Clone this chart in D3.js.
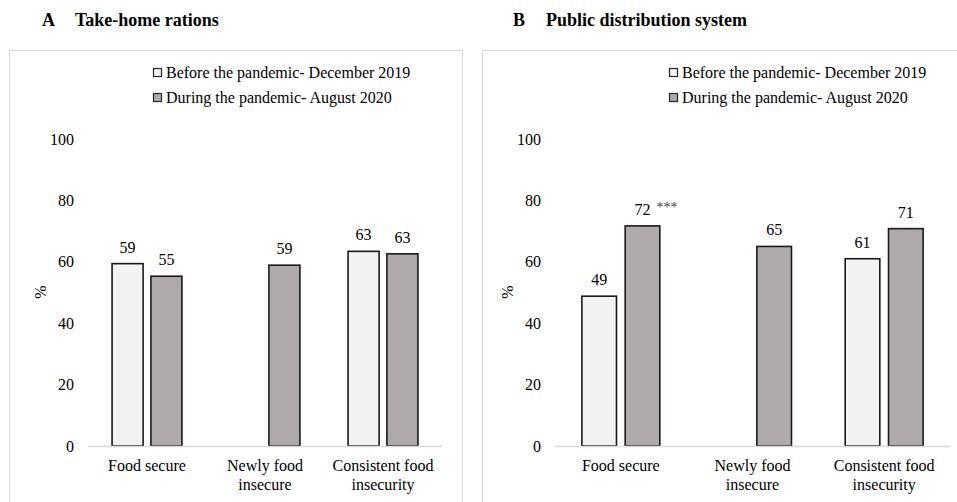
<!DOCTYPE html>
<html>
<head>
<meta charset="utf-8">
<script src="https://cdn.jsdelivr.net/npm/d3@7"></script>
<style>
  body { margin: 0; background: #fff; }
</style>
</head>
<body>
<svg id="chart" width="957" height="502" font-family="Liberation Serif, Times New Roman, DejaVu Serif, serif"></svg>
<script>
// categories and series
var categories = [["Food secure"], ["Newly food", "insecure"], ["Consistent food", "insecurity"]];
var seriesNames = ["Before the pandemic- December 2019", "During the pandemic- August 2020"];
var yTicks = [0, 20, 40, 60, 80, 100];

// A: take-home rations
var thrBefore = [59.4, null, 63.4];
var thrDuring = [55.3, 58.9, 62.6];
// B: public distribution system
var pdsBefore = [48.8, null, 61.0];
var pdsDuring = [71.7, 65.0, 70.8];
var pdsStars = ["***", "", ""];

var colors = ["#f2f2f2", "#aeaaaa"];

var svg = d3.select("#chart");

function drawPanel(p) {
	var g = svg.append("g");

	// frame
	g.append("rect")
		.attr("x", p.box[0] + 0.5).attr("y", 50.5)
		.attr("width", p.box[1] - p.box[0]).attr("height", 480)
		.attr("fill", "none").attr("stroke", "#d9d9d9");

	// title
	g.append("text").attr("x", p.titleX).attr("y", 26)
		.attr("font-weight", "bold").attr("font-size", 18).text(p.letter);
	g.append("text").attr("x", p.titleX + 33).attr("y", 26)
		.attr("font-weight", "bold").attr("font-size", 18).text(p.title);

	var y = d3.scaleLinear().domain([0, 100]).range([446, 139]);
	var x = d3.scaleBand().domain(d3.range(categories.length)).range([p.x0, p.x1]);
	var bw = x.bandwidth();
	var w = bw * 0.263, gap = bw * 0.066;

	// y tick labels
	g.selectAll(".ytick").data(yTicks).enter().append("text")
		.attr("x", p.x0 - 14).attr("y", function(d) { return y(d); })
		.attr("dy", "0.35em").attr("text-anchor", "end")
		.attr("font-size", 16).text(function(d) { return d; });

	// % label
	g.append("text")
		.attr("transform", "translate(" + (p.x0 - 48) + ",292) rotate(-90)")
		.attr("text-anchor", "middle").attr("dy", "0.35em")
		.attr("font-size", 16).text("%");

	var series = [p.before, p.during];
	series.forEach(function(vals, s) {
		var bars = vals.map(function(v, i) { return {v: v, i: i}; })
			.filter(function(d) { return d.v !== null; });
		var bx = function(d) {
			var c = x(d.i) + bw / 2;
			return s === 0 ? c - gap / 2 - w : c + gap / 2;
		};
		g.selectAll(".bar" + s).data(bars).enter().append("rect")
			.attr("x", bx).attr("width", w)
			.attr("y", function(d) { return y(d.v); })
			.attr("height", function(d) { return y(0) - y(d.v); })
			.attr("fill", colors[s]).attr("stroke", "#1a1a1a").attr("stroke-width", 1.6);
		g.selectAll(".lab" + s).data(bars).enter().append("text")
			.attr("x", function(d) { return bx(d) + w / 2; })
			.attr("y", function(d) { return y(d.v) - 11; })
			.attr("text-anchor", "middle").attr("font-size", 16)
			.text(function(d) { return Math.round(d.v); });
		if (s === 1 && p.stars) {
			g.selectAll(".star").data(bars.filter(function(d) { return p.stars[d.i]; })).enter().append("text")
				.attr("x", function(d) { return bx(d) + w / 2 + 14; })
				.attr("y", function(d) { return y(d.v) - 14; })
				.attr("font-size", 14).attr("fill", "#444")
				.text(function(d) { return p.stars[d.i]; });
		}
	});

	// baseline
	g.append("line").attr("x1", p.x0).attr("x2", p.x1)
		.attr("y1", y(0) + 0.5).attr("y2", y(0) + 0.5)
		.attr("stroke", "#d9d9d9").attr("stroke-width", 1.5);

	// category labels
	categories.forEach(function(lines, i) {
		var t = g.append("text").attr("text-anchor", "middle").attr("font-size", 16);
		lines.forEach(function(l, k) {
			t.append("tspan").attr("x", x(i) + bw / 2).attr("y", 471 + k * 18.5).text(l);
		});
	});

	// legend
	seriesNames.forEach(function(name, s) {
		var ly = 72 + s * 25;
		g.append("rect").attr("x", p.legendX + 0.5).attr("y", ly - 4 + 0.5)
			.attr("width", 8).attr("height", 8)
			.attr("fill", colors[s]).attr("stroke", "#262626").attr("stroke-width", 1.2);
		g.append("text").attr("x", p.legendX + 13).attr("y", ly).attr("dy", "0.35em")
			.attr("font-size", 16).text(name);
	});
}

drawPanel({letter: "A", title: "Take-home rations", titleX: 42, box: [9, 462],
	x0: 88, x1: 442, legendX: 153, before: thrBefore, during: thrDuring});
drawPanel({letter: "B", title: "Public distribution system", titleX: 513, box: [482, 990],
	x0: 555, x1: 950, legendX: 669, before: pdsBefore, during: pdsDuring, stars: pdsStars});
</script>
</body>
</html>
